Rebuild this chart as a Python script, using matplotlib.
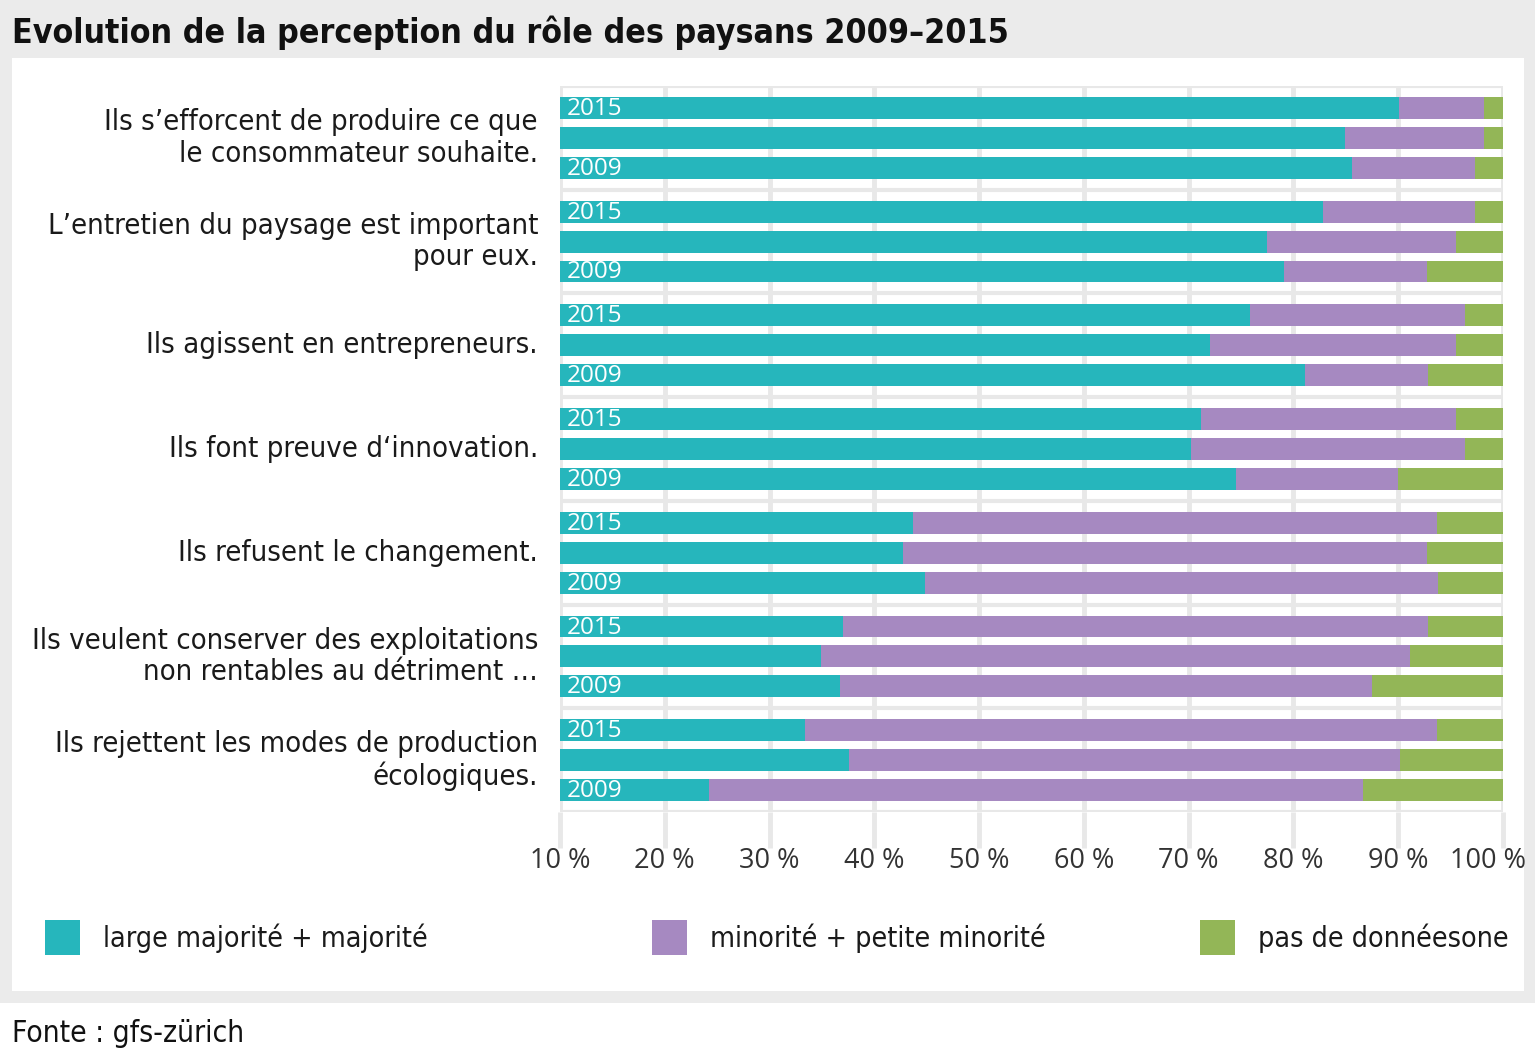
import matplotlib.pyplot as plt
import matplotlib.transforms as mtransforms
from matplotlib.patches import Rectangle

plt.rcParams['font.family'] = ['DejaVu Sans']
plt.rcParams['font.stretch'] = 'condensed'

# Data
categories = [
    "Ils s’efforcent de produire ce que\nle consommateur souhaite.",
    "L’entretien du paysage est important\npour eux.",
    "Ils agissent en entrepreneurs.",
    "Ils font preuve d‘innovation.",
    "Ils refusent le changement.",
    "Ils veulent conserver des exploitations\nnon rentables au détriment …",
    "Ils rejettent les modes de production\nécologiques.",
]
years = ["2015", "", "2009"]

majority = [
    [90.1, 84.9, 85.6],
    [82.8, 77.5, 79.1],
    [75.9, 72.0, 81.1],
    [71.2, 70.2, 74.5],
    [43.7, 42.7, 44.8],
    [37.0, 34.9, 36.7],
    [33.4, 37.6, 24.2],
]
minority = [
    [8.1, 13.3, 11.7],
    [14.5, 18.0, 13.6],
    [20.5, 23.5, 11.7],
    [24.3, 26.2, 15.5],
    [50.0, 50.0, 49.0],
    [55.8, 56.2, 50.8],
    [60.3, 52.6, 62.4],
]
no_data = [
    [1.8, 1.8, 2.7],
    [2.7, 4.5, 7.3],
    [3.6, 4.5, 7.2],
    [4.5, 3.6, 10.0],
    [6.3, 7.3, 6.2],
    [7.2, 8.9, 12.5],
    [6.3, 9.8, 13.4],
]

series_names = ["large majorité + majorité", "minorité + petite minorité", "pas de donnéesone"]
colors = ["#26b6bc", "#a689c1", "#93b657"]
x_ticks = [10, 20, 30, 40, 50, 60, 70, 80, 90, 100]

W, H = 1535, 1053
fig = plt.figure(figsize=(W / 100, H / 100), dpi=100)
fig.patch.set_facecolor("white")

# background frame
fig.patches.append(Rectangle((0, 1 - 1003 / H), 1, 1003 / H, transform=fig.transFigure,
                             facecolor="#ebebeb", edgecolor="none", zorder=-10))
fig.patches.append(Rectangle((12 / W, 1 - 991 / H), (1524 - 12) / W, (991 - 58) / H,
                             transform=fig.transFigure, facecolor="white", edgecolor="none", zorder=-9))

ax = fig.add_axes([560 / W, 1 - 812 / H, (1503 - 560) / W, (812 - 86) / H])
ax.set_facecolor("none")

group_step = 104
bar_step = 30
bar_h = 22

for i in range(len(categories)):
    for j in range(3):
        y = i * group_step + j * bar_step
        m, n, d = majority[i][j], minority[i][j], no_data[i][j]
        ax.barh(y, m, left=0, height=bar_h, color=colors[0], zorder=3)
        ax.barh(y, n, left=m, height=bar_h, color=colors[1], zorder=3)
        ax.barh(y, d, left=m + n, height=bar_h, color=colors[2], zorder=3)
        if years[j]:
            ax.text(10.6, y + 1, years[j], color="white", fontsize=17.5,
                    va="center", ha="left", zorder=4,
                    family=['Open Sans', 'DejaVu Sans'], stretch='normal')
    ax.text(-22 / 943, i * group_step + bar_step, categories[i], transform=ax.get_yaxis_transform(),
            ha="right", va="center", fontsize=21, color="#1a1a1a", linespacing=1.15)

# group separators
for i in range(len(categories) + 1):
    ax.axhline(i * group_step - bar_h, color="#e8e8e8", lw=3, zorder=1)

ax.set_xlim(10, 100)
ax.set_ylim((len(categories) - 1) * group_step + 2 * bar_step + bar_h, -bar_h)
ax.set_xticks(x_ticks)
ax.set_xticklabels([f"{t} %" for t in x_ticks], fontsize=19.5, color="#333333",
                   family=['Open Sans', 'DejaVu Sans'], stretch='normal')
ax.grid(axis="x", color="#e8e8e8", lw=3.5, zorder=0)
ax.tick_params(axis="x", length=26, width=3.5, color="#e8e8e8", pad=-1)
ax.tick_params(axis="y", left=False, labelleft=False)
for s in ax.spines.values():
    s.set_visible(False)

# nudge last tick label to stay inside the panel
last = ax.get_xticklabels()[-1]
last.set_transform(last.get_transform() + mtransforms.ScaledTranslation(-15 / 100, 0, fig.dpi_scale_trans))

# title
fig.text(12 / W, 1 - 33 / H, "Evolution de la perception du rôle des paysans 2009–2015",
         fontsize=24.3, fontweight="bold", ha="left", va="center", color="#111111")

# legend
legend_x = [45, 652, 1200]
for x, name, c in zip(legend_x, series_names, colors):
    fig.patches.append(Rectangle((x / W, 1 - 955 / H), 35 / W, 35 / H, transform=fig.transFigure,
                                 facecolor=c, edgecolor="none"))
    fig.text((x + 58) / W, 1 - 938 / H, name, fontsize=20.5, ha="left", va="center", color="#1a1a1a")

# source
fig.text(12 / W, 1 - 1033 / H, "Fonte : gfs-zürich", fontsize=21.5, ha="left", va="center", color="#111111")

plt.savefig("out.png", dpi=100)
